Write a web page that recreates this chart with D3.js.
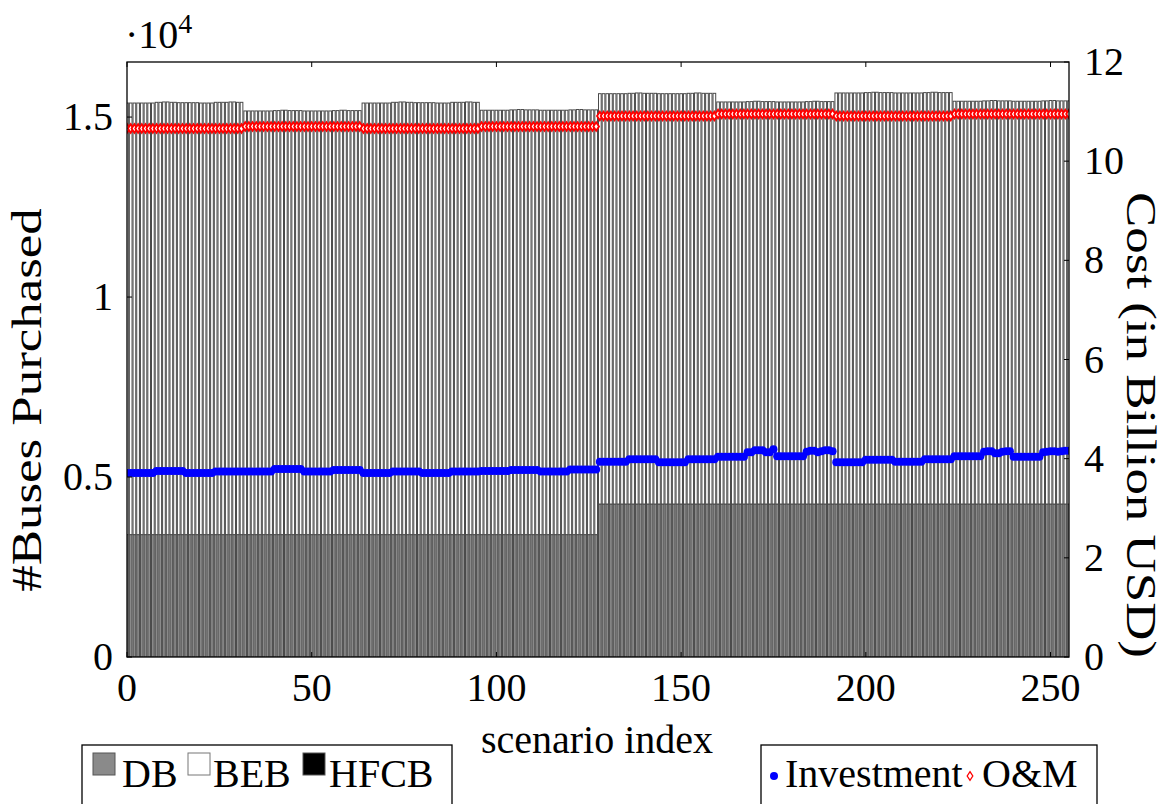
<!DOCTYPE html>
<html>
<head>
<meta charset="utf-8">
<script src="https://cdn.jsdelivr.net/npm/d3@7"></script>
<style>
  html, body { margin: 0; padding: 0; background: #fff; }
  svg { display: block; }
  text { font-family: "Liberation Serif", "Times New Roman", serif; fill: #000; }
</style>
</head>
<body>
<svg id="chart" width="1165" height="804"></svg>
<script>
// Number of buses purchased per scenario (diesel, battery-electric, fuel-cell)
const dbBuses = [
  3400,3400,3400,3400,3400,3400,3400,3400,3400,3400,3400,3400,3400,3400,3400,3400,3400,3400,3400,3400,3400,3400,3400,3400,3400,3400,3400,3400,3400,3400,3400,3400,
  3400,3400,3400,3400,3400,3400,3400,3400,3400,3400,3400,3400,3400,3400,3400,3400,3400,3400,3400,3400,3400,3400,3400,3400,3400,3400,3400,3400,3400,3400,3400,3400,
  3400,3400,3400,3400,3400,3400,3400,3400,3400,3400,3400,3400,3400,3400,3400,3400,3400,3400,3400,3400,3400,3400,3400,3400,3400,3400,3400,3400,3400,3400,3400,3400,
  3400,3400,3400,3400,3400,3400,3400,3400,3400,3400,3400,3400,3400,3400,3400,3400,3400,3400,3400,3400,3400,3400,3400,3400,3400,3400,3400,3400,3400,3400,3400,3400,
  4250,4250,4250,4250,4250,4250,4250,4250,4250,4250,4250,4250,4250,4250,4250,4250,4250,4250,4250,4250,4250,4250,4250,4250,4250,4250,4250,4250,4250,4250,4250,4250,
  4250,4250,4250,4250,4250,4250,4250,4250,4250,4250,4250,4250,4250,4250,4250,4250,4250,4250,4250,4250,4250,4250,4250,4250,4250,4250,4250,4250,4250,4250,4250,4250,
  4250,4250,4250,4250,4250,4250,4250,4250,4250,4250,4250,4250,4250,4250,4250,4250,4250,4250,4250,4250,4250,4250,4250,4250,4250,4250,4250,4250,4250,4250,4250,4250,
  4250,4250,4250,4250,4250,4250,4250,4250,4250,4250,4250,4250,4250,4250,4250,4250,4250,4250,4250,4250,4250,4250,4250,4250,4250,4250,4250,4250,4250,4250,4250,4250
];
const bebBuses = [
  11990,11990,11990,11990,11990,11990,11990,11990,12010,12010,12020,12020,12010,12010,12000,12000,12000,12000,12000,12000,11990,11990,11990,11990,12010,12010,12010,12010,12020,12020,12010,12010,
  11770,11770,11770,11770,11770,11770,11770,11770,11780,11780,11790,11790,11780,11780,11780,11780,11770,11770,11770,11770,11770,11770,11770,11770,11780,11780,11790,11790,11780,11780,11780,11780,
  11990,11990,11990,11990,11990,11990,11990,11990,12010,12010,12020,12020,12010,12010,12000,12000,12000,12000,12000,12000,11990,11990,11990,11990,12010,12010,12010,12010,12020,12020,12010,12010,
  11790,11790,11790,11790,11790,11790,11790,11790,11800,11800,11810,11810,11800,11800,11800,11800,11790,11790,11790,11790,11790,11790,11790,11790,11800,11800,11810,11810,11800,11800,11800,11800,
  11400,11400,11400,11400,11400,11400,11400,11400,11410,11410,11420,11420,11410,11410,11410,11410,11400,11400,11400,11400,11400,11400,11400,11400,11410,11410,11420,11420,11410,11410,11410,11410,
  11170,11170,11170,11170,11170,11170,11170,11170,11180,11180,11190,11190,11180,11180,11180,11180,11170,11170,11170,11170,11170,11170,11170,11170,11180,11180,11190,11190,11180,11180,11180,11180,
  11420,11420,11420,11420,11420,11420,11420,11420,11430,11430,11440,11440,11430,11430,11430,11430,11420,11420,11420,11420,11420,11420,11420,11420,11430,11430,11440,11440,11430,11430,11430,11430,
  11190,11190,11190,11190,11190,11190,11190,11190,11200,11200,11210,11210,11200,11200,11200,11200,11190,11190,11190,11190,11190,11190,11190,11190,11200,11200,11210,11210,11200,11200,11200,11200
];
const hfcbBuses = [
  0,0,0,0,0,0,0,0,0,0,0,0,0,0,0,0,0,0,0,0,0,0,0,0,0,0,0,0,0,0,0,0,
  0,0,0,0,0,0,0,0,0,0,0,0,0,0,0,0,0,0,0,0,0,0,0,0,0,0,0,0,0,0,0,0,
  0,0,0,0,0,0,0,0,0,0,0,0,0,0,0,0,0,0,0,0,0,0,0,0,0,0,0,0,0,0,0,0,
  0,0,0,0,0,0,0,0,0,0,0,0,0,0,0,0,0,0,0,0,0,0,0,0,0,0,0,0,0,0,0,0,
  0,0,0,0,0,0,0,0,0,0,0,0,0,0,0,0,0,0,0,0,0,0,0,0,0,0,0,0,0,0,0,0,
  0,0,0,0,0,0,0,0,0,0,0,0,0,0,0,0,0,0,0,0,0,0,0,0,0,0,0,0,0,0,0,0,
  0,0,0,0,0,0,0,0,0,0,0,0,0,0,0,0,0,0,0,0,0,0,0,0,0,0,0,0,0,0,0,0,
  0,0,0,0,0,0,0,0,0,0,0,0,0,0,0,0,0,0,0,0,0,0,0,0,0,0,0,0,0,0,0,0
];

// Cost per scenario, billion USD
const investmentCost = [
  3.71,3.71,3.71,3.71,3.71,3.71,3.71,3.71,3.75,3.75,3.75,3.75,3.75,3.75,3.75,3.75,3.71,3.71,3.71,3.71,3.71,3.71,3.71,3.71,3.74,3.74,3.74,3.74,3.74,3.74,3.74,3.74,
  3.74,3.74,3.74,3.74,3.74,3.74,3.74,3.74,3.79,3.79,3.79,3.79,3.79,3.79,3.79,3.79,3.74,3.74,3.74,3.74,3.74,3.74,3.74,3.74,3.77,3.77,3.77,3.77,3.77,3.77,3.77,3.77,
  3.71,3.71,3.71,3.71,3.71,3.71,3.71,3.71,3.74,3.74,3.74,3.74,3.74,3.74,3.74,3.74,3.71,3.71,3.71,3.71,3.71,3.71,3.71,3.71,3.74,3.74,3.74,3.74,3.74,3.74,3.74,3.74,
  3.75,3.75,3.75,3.75,3.75,3.75,3.75,3.75,3.77,3.77,3.77,3.77,3.77,3.77,3.77,3.77,3.74,3.74,3.74,3.74,3.74,3.74,3.74,3.74,3.78,3.78,3.78,3.78,3.78,3.78,3.78,3.78,
  3.94,3.94,3.94,3.94,3.94,3.94,3.94,3.94,3.99,3.99,3.99,3.99,3.99,3.99,3.99,3.99,3.93,3.93,3.93,3.93,3.93,3.93,3.93,3.93,3.99,3.99,3.99,3.99,3.99,3.99,3.99,3.99,
  4.04,4.04,4.04,4.04,4.04,4.04,4.04,4.04,4.13,4.13,4.17,4.17,4.17,4.13,4.13,4.19,4.05,4.05,4.05,4.05,4.05,4.05,4.05,4.05,4.14,4.16,4.16,4.13,4.15,4.17,4.17,4.15,
  3.93,3.93,3.93,3.93,3.93,3.93,3.93,3.93,3.98,3.98,3.98,3.98,3.98,3.98,3.98,3.98,3.94,3.94,3.94,3.94,3.94,3.94,3.94,3.94,3.99,3.99,3.99,3.99,3.99,3.99,3.99,3.99,
  4.05,4.05,4.05,4.05,4.05,4.05,4.05,4.05,4.14,4.15,4.15,4.11,4.11,4.14,4.15,4.15,4.04,4.04,4.04,4.04,4.04,4.04,4.04,4.04,4.13,4.14,4.15,4.15,4.14,4.15,4.16,4.16
];
const omCost = [
  10.66,10.66,10.66,10.66,10.66,10.66,10.66,10.66,10.66,10.66,10.66,10.66,10.66,10.66,10.66,10.66,10.66,10.66,10.66,10.66,10.66,10.66,10.66,10.66,10.66,10.66,10.66,10.66,10.66,10.66,10.66,10.66,
  10.70,10.70,10.70,10.70,10.70,10.70,10.70,10.70,10.70,10.70,10.70,10.70,10.70,10.70,10.70,10.70,10.70,10.70,10.70,10.70,10.70,10.70,10.70,10.70,10.70,10.70,10.70,10.70,10.70,10.70,10.70,10.70,
  10.66,10.66,10.66,10.66,10.66,10.66,10.66,10.66,10.66,10.66,10.66,10.66,10.66,10.66,10.66,10.66,10.66,10.66,10.66,10.66,10.66,10.66,10.66,10.66,10.66,10.66,10.66,10.66,10.66,10.66,10.66,10.66,
  10.70,10.70,10.70,10.70,10.70,10.70,10.70,10.70,10.70,10.70,10.70,10.70,10.70,10.70,10.70,10.70,10.70,10.70,10.70,10.70,10.70,10.70,10.70,10.70,10.70,10.70,10.70,10.70,10.70,10.70,10.70,10.70,
  10.91,10.91,10.91,10.91,10.91,10.91,10.91,10.91,10.91,10.91,10.91,10.91,10.91,10.91,10.91,10.91,10.91,10.91,10.91,10.91,10.91,10.91,10.91,10.91,10.91,10.91,10.91,10.91,10.91,10.91,10.91,10.91,
  10.95,10.95,10.95,10.95,10.95,10.95,10.95,10.95,10.95,10.95,10.95,10.95,10.95,10.95,10.95,10.95,10.95,10.95,10.95,10.95,10.95,10.95,10.95,10.95,10.95,10.95,10.95,10.95,10.95,10.95,10.95,10.95,
  10.91,10.91,10.91,10.91,10.91,10.91,10.91,10.91,10.91,10.91,10.91,10.91,10.91,10.91,10.91,10.91,10.91,10.91,10.91,10.91,10.91,10.91,10.91,10.91,10.91,10.91,10.91,10.91,10.91,10.91,10.91,10.91,
  10.95,10.95,10.95,10.95,10.95,10.95,10.95,10.95,10.95,10.95,10.95,10.95,10.95,10.95,10.95,10.95,10.95,10.95,10.95,10.95,10.95,10.95,10.95,10.95,10.95,10.95,10.95,10.95,10.95,10.95,10.95,10.95
];

// Axis ticks and labels
const xTicks = [0, 50, 100, 150, 200, 250];
const leftTicks = [0, 5000, 10000, 15000];
const leftTickLabels = ["0", "0.5", "1", "1.5"];
const rightTicks = [0, 2, 4, 6, 8, 10, 12];
const busTypes = ["DB", "BEB", "HFCB"];
const busColors = ["#8a8a8a", "#ffffff", "#000000"];
const costSeries = ["Investment", "O&M"];

const scenarioIndex = d3.range(dbBuses.length);

const plot = { left: 127, right: 1069, top: 62, bottom: 657 };
const svg = d3.select("#chart");
const FONT = 40;
const TITLE_FONT = 42;
const TITLE_STRETCH = 1.26;

const x = d3.scaleLinear().domain([0, 255]).range([plot.left, plot.right]);
const yLeft = d3.scaleLinear().domain([0, 16530]).range([plot.bottom, plot.top]);
const yRight = d3.scaleLinear().domain([0, 12]).range([plot.bottom, plot.top]);

// Stacked bar data
const rows = scenarioIndex.map(i => ({ i, DB: dbBuses[i], BEB: bebBuses[i], HFCB: hfcbBuses[i] }));
const stacked = d3.stack().keys(busTypes)(rows);

svg.append("defs").append("clipPath").attr("id", "plotClip")
  .append("rect")
  .attr("x", plot.left).attr("y", plot.top)
  .attr("width", plot.right - plot.left).attr("height", plot.bottom - plot.top);

const pitch = x(1) - x(0);
const barW = pitch - 1;

const barsG = svg.append("g").attr("clip-path", "url(#plotClip)");
stacked.forEach((layer, k) => {
  barsG.append("g")
    .selectAll("rect")
    .data(layer.filter(d => d[1] > d[0]))
    .join("rect")
    .attr("x", d => x(d.data.i) - barW / 2)
    .attr("width", barW)
    .attr("y", d => yLeft(d[1]))
    .attr("height", d => yLeft(d[0]) - yLeft(d[1]))
    .attr("fill", busColors[k])
    .attr("stroke", "#4a4a4a")
    .attr("stroke-width", 1);
});

// Cost markers
const marksG = svg.append("g").attr("clip-path", "url(#plotClip)");
const diamond = "M0,-4.3L2.8,0L0,4.3L-2.8,0Z";
marksG.append("g").selectAll("path")
  .data(scenarioIndex)
  .join("path")
  .attr("d", diamond)
  .attr("transform", i => `translate(${x(i)},${yRight(omCost[i])})`)
  .attr("fill", "#fff")
  .attr("stroke", "#ff0000")
  .attr("stroke-width", 1.9);

marksG.append("g").selectAll("circle")
  .data(scenarioIndex)
  .join("circle")
  .attr("cx", i => x(i))
  .attr("cy", i => yRight(investmentCost[i]))
  .attr("r", 4)
  .attr("fill", "#0000ff");

// Axes frame
svg.append("rect")
  .attr("x", plot.left).attr("y", plot.top)
  .attr("width", plot.right - plot.left).attr("height", plot.bottom - plot.top)
  .attr("fill", "none").attr("stroke", "#000").attr("stroke-width", 1.3);

const tickLen = 5;
const axisG = svg.append("g").attr("stroke", "#000").attr("stroke-width", 1);
xTicks.forEach(t => {
  axisG.append("line").attr("x1", x(t)).attr("x2", x(t)).attr("y1", plot.bottom).attr("y2", plot.bottom - tickLen);
  axisG.append("line").attr("x1", x(t)).attr("x2", x(t)).attr("y1", plot.top).attr("y2", plot.top + tickLen);
});
leftTicks.forEach(t => {
  axisG.append("line").attr("x1", plot.left).attr("x2", plot.left + tickLen).attr("y1", yLeft(t)).attr("y2", yLeft(t));
});
rightTicks.forEach(t => {
  axisG.append("line").attr("x1", plot.right).attr("x2", plot.right - tickLen).attr("y1", yRight(t)).attr("y2", yRight(t));
});

// Tick labels
svg.append("g").selectAll("text").data(xTicks).join("text")
  .attr("x", d => x(d)).attr("y", plot.bottom + 44)
  .attr("text-anchor", "middle").attr("font-size", FONT)
  .text(d => d);

svg.append("g").selectAll("text").data(leftTicks).join("text")
  .attr("x", plot.left - 14).attr("y", d => yLeft(d) + 13)
  .attr("text-anchor", "end").attr("font-size", FONT)
  .text((d, i) => leftTickLabels[i]);

svg.append("g").selectAll("text").data(rightTicks).join("text")
  .attr("x", plot.right + 15).attr("y", d => yRight(d) + 13)
  .attr("text-anchor", "start").attr("font-size", FONT)
  .text(d => d);

// Scale factor of the left axis
const expo = svg.append("text").attr("x", 125).attr("y", 48).attr("font-size", FONT);
expo.append("tspan").text("\u00b710");
expo.append("tspan").attr("dy", -15).attr("font-size", 28).text("4");

// Axis titles
svg.append("text")
  .attr("transform", `translate(${597},${753})`)
  .attr("text-anchor", "middle").attr("font-size", FONT)
  .text("scenario index");

svg.append("text")
  .attr("transform", `translate(${41},${400}) rotate(-90) scale(${TITLE_STRETCH},1)`)
  .attr("text-anchor", "middle").attr("font-size", TITLE_FONT)
  .text("#Buses Purchased");

svg.append("text")
  .attr("transform", `translate(${1127},${425}) rotate(90) scale(${TITLE_STRETCH},1)`)
  .attr("text-anchor", "middle").attr("font-size", TITLE_FONT)
  .text("Cost (in Billion USD)");

// Bus-type legend
const leg1 = svg.append("g");
leg1.append("rect").attr("x", 82).attr("y", 745).attr("width", 370).attr("height", 80)
  .attr("fill", "#fff").attr("stroke", "#000").attr("stroke-width", 1.3);
const swatchX = [93, 188, 303];
const labelX = [122, 213, 329];
busTypes.forEach((name, k) => {
  leg1.append("rect").attr("x", swatchX[k]).attr("y", 753).attr("width", 22).attr("height", 22)
    .attr("fill", busColors[k]).attr("stroke", k === 1 ? "#777" : "#555").attr("stroke-width", 1);
  leg1.append("text").attr("x", labelX[k]).attr("y", 787).attr("font-size", FONT).text(name);
});

// Cost legend
const leg2 = svg.append("g");
leg2.append("rect").attr("x", 761).attr("y", 745).attr("width", 336).attr("height", 80)
  .attr("fill", "#fff").attr("stroke", "#000").attr("stroke-width", 1.3);
leg2.append("circle").attr("cx", 774).attr("cy", 776).attr("r", 4).attr("fill", "#0000ff");
leg2.append("text").attr("x", 785).attr("y", 787).attr("font-size", FONT).text(costSeries[0]);
leg2.append("path").attr("d", diamond).attr("transform", "translate(970,776)")
  .attr("fill", "#fff").attr("stroke", "#ff0000").attr("stroke-width", 1.3);
leg2.append("text").attr("x", 982).attr("y", 787).attr("font-size", FONT).text(costSeries[1]);
</script>
</body>
</html>
